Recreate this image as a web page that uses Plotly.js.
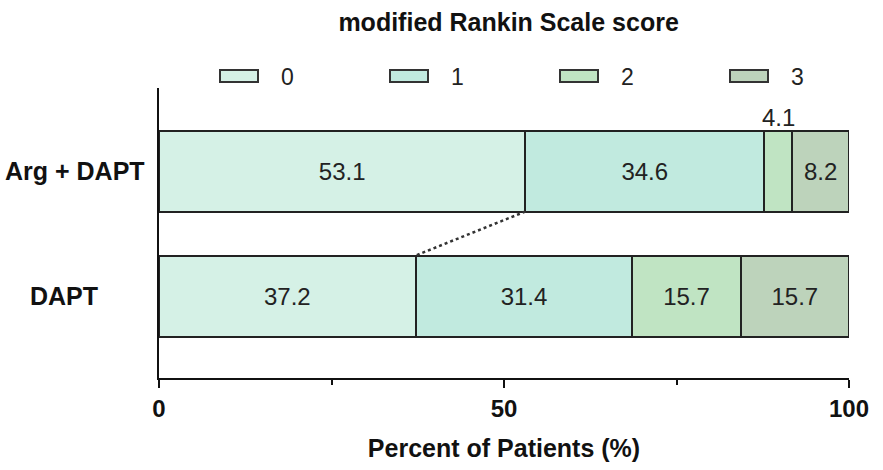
<!DOCTYPE html>
<html>
<head>
<meta charset="utf-8">
<script src="https://cdn.plot.ly/plotly-3.0.1.min.js"></script>
<style>html,body{margin:0;padding:0;background:#fff;}#chart{width:883px;height:470px;}</style>
</head>
<body>
<div id="chart"></div>
<script>
// ---- data ----
const groups = ["DAPT", "Arg + DAPT"];          // bottom to top
const scores = ["0", "1", "2", "3"];
const values0 = [37.2, 53.1];
const values1 = [31.4, 34.6];
const values2 = [15.7, 4.1];
const values3 = [15.7, 8.2];
const xTicks = [0, 50, 100];
const xMinorTicks = [25, 75];
const titleText = "modified Rankin Scale score";
const xTitle = "Percent of Patients (%)";

// ---- style ----
const colors = ["#d5f1e6", "#c1eadf", "#c0e4c3", "#bdd3bb"];
const FONT = "Liberation Sans, Arial, sans-serif";
const barWidth = 0.648;
const series = [values0, values1, values2, values3];
const yPos = groups.map((g, i) => i);
const W = 883, H = 470, L = 159, R = 34, T = 88, B = 92;
const pw = W - L - R, ph = H - T - B;
const px2paperX = p => (p - L) / pw;
const py2paperY = p => (H - B - p) / ph;

const traces = [];
const annotations = [];
series.forEach((vals, k) => {
  traces.push({
    type: "bar",
    orientation: "h",
    name: scores[k],
    y: yPos,
    x: vals,
    width: barWidth,
    marker: {color: colors[k], line: {color: "#222", width: 2}},
    text: vals.map(v => v >= 6 ? v.toFixed(1) : ""),
    textposition: "inside",
    insidetextanchor: "middle",
    textangle: 0,
    textfont: {family: FONT, size: 24, color: "#222"},
    hoverinfo: "x+y",
    showlegend: false,
    cliponaxis: false
  });
});
// small segments: label above the bar
yPos.forEach((y, i) => {
  let cum = 0;
  series.forEach((vals, k) => {
    const v = vals[i];
    if (v < 6) {
      annotations.push({
        x: cum + v / 2, y: y + barWidth / 2, xref: "x", yref: "y",
        text: v.toFixed(1), showarrow: false, yanchor: "bottom", yshift: -2,
        font: {family: FONT, size: 24, color: "#222"}
      });
    }
    cum += v;
  });
});
// dashed connector between end of score-0 segments
traces.push({
  type: "scatter", mode: "lines",
  x: [values0[1], values0[0]],
  y: [yPos[1] - barWidth / 2, yPos[0] + barWidth / 2],
  line: {color: "#333", width: 2.5, dash: "3px,3px"},
  hoverinfo: "skip", showlegend: false
});

// y category labels
const labelCenters = [64, 75];
groups.forEach((g, i) => {
  annotations.push({
    x: px2paperX(labelCenters[i]), xref: "paper", y: yPos[i], yref: "y",
    text: g, showarrow: false, xanchor: "center",
    font: {family: FONT, size: 25, color: "#111", weight: "bold"}
  });
});

// custom legend
const shapes = [];
scores.forEach((s, k) => {
  const left = 220 + k * 170;
  shapes.push({
    type: "rect", xref: "paper", yref: "paper",
    x0: px2paperX(left), x1: px2paperX(left + 38),
    y0: py2paperY(82), y1: py2paperY(70),
    fillcolor: colors[k], line: {color: "#333", width: 2}
  });
  annotations.push({
    x: px2paperX(left + 67), xref: "paper", y: py2paperY(77), yref: "paper",
    text: s, showarrow: false, xanchor: "center", yanchor: "middle",
    font: {family: FONT, size: 23, color: "#222"}
  });
});

const layout = {
  width: W, height: H,
  margin: {l: L, r: R, t: T, b: B, pad: 0},
  paper_bgcolor: "#fff", plot_bgcolor: "#fff",
  barmode: "stack",
  bargap: 0,
  showlegend: false,
  title: {
    text: titleText, x: 0.576, xanchor: "center", y: 1 - 22 / H, yanchor: "middle",
    font: {family: FONT, size: 25, color: "#111", weight: "bold"}
  },
  xaxis: {
    range: [0, 100], fixedrange: true,
    showline: true, linecolor: "#111", linewidth: 2,
    showgrid: false, zeroline: false,
    ticks: "outside", ticklen: 8, tickwidth: 2, tickcolor: "#111",
    tickvals: xTicks, ticktext: xTicks.map(String),
    tickfont: {family: FONT, size: 24, color: "#111", weight: "bold"},
    minor: {tickvals: xMinorTicks, ticks: "outside", ticklen: 5, tickwidth: 2, tickcolor: "#111", showgrid: false},
    title: {text: xTitle, standoff: 19, font: {family: FONT, size: 25, color: "#111", weight: "bold"}}
  },
  yaxis: {
    range: [-0.656, 1.664], fixedrange: true,
    showline: true, linecolor: "#111", linewidth: 2,
    showgrid: false, zeroline: false, ticks: "", showticklabels: false
  },
  shapes: shapes,
  annotations: annotations
};

Plotly.newPlot("chart", traces, layout, {displayModeBar: false, staticPlot: true});
</script>
</body>
</html>
